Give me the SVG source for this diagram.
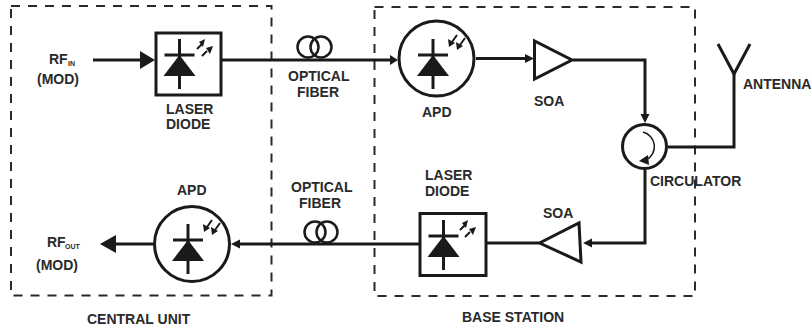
<svg xmlns="http://www.w3.org/2000/svg" width="812" height="333" viewBox="0 0 812 333">
<style>
text{font-family:"Liberation Sans",Arial,sans-serif;font-weight:700;font-size:14px;fill:#2a2a2a}
.s{font-size:7px}
.b{fill:none;stroke:#2a2a2a;stroke-width:2;stroke-dasharray:9 8}
.l{fill:none;stroke:#1a1a1a;stroke-width:3}
.t{fill:none;stroke:#1a1a1a;stroke-width:2}
.c{fill:none;stroke:#1a1a1a;stroke-width:2.500}
.a{fill:none;stroke:#1a1a1a;stroke-width:1.500}
.n{fill:#fff;stroke:#1a1a1a;stroke-width:3}
.f{fill:#1a1a1a;stroke:none}
</style>
<defs>
<g id="diode">
<path class="l" d="M0-16V34M-15 0H15"/>
<path class="f" d="M0 0L16 21H-16Z"/>
</g>
<g id="emit">
<path class="t" d="M-7 1L-2-4M-2 8L3 3"/>
<path class="f" d="M1-9L-5-6L-1-1ZM9-2L2 0L6 6Z"/>
</g>
<g id="recv">
<path class="t" d="M3-6L-2 1M11-3L6 4"/>
<path class="f" d="M-5 6L-6-2L1 2ZM3 9L2 1L9 5Z"/>
</g>
</defs>
<g id="central-unit"><rect class="b" x="11" y="6" width="260.500" height="289.500"/><text x="87" y="324">CENTRAL UNIT</text></g>
<g id="base-station"><rect class="b" x="374.500" y="7" width="320.500" height="289"/><text x="462" y="322">BASE STATION</text></g>
<g id="connectors">
<path class="l" d="M93 60H141"/><path class="f" d="M140 51L155 60L140 69Z"/>
<path class="l" d="M222 60H391"/><path class="f" d="M390 55L398 60L390 65Z"/>
<path class="l" d="M476 58.500H527"/><path class="f" d="M525 54L534 58.500L525 63Z"/>
<path class="l" d="M573 60H645V116"/><path class="f" d="M640.500 114L645 123L649.500 114Z"/>
<path class="l" d="M668 147H734V74"/>
<path class="l" d="M645 170V243H590"/><path class="f" d="M592 238.500L583 243L592 247.500Z"/>
<path class="l" d="M539 243H486"/>
<path class="l" d="M419 244H238"/><path class="f" d="M240 239.500L231 244L240 248.500Z"/>
<path class="l" d="M153 244H114"/><path class="f" d="M116 235L100 244L116 253Z"/>
</g>
<g id="rf-in"><text x="49" y="64">RF</text><text class="s" x="68" y="66">IN</text><text x="37" y="84">(MOD)</text></g>
<g id="laser-top"><rect class="n" x="156" y="33" width="65" height="62"/><use href="#diode" x="179.500" y="55"/><use href="#emit" x="204" y="48"/><text x="166" y="113.500">LASER</text><text x="166" y="129">DIODE</text></g>
<g id="fiber-top"><circle class="c" cx="308" cy="47" r="10.500"/><circle class="c" cx="321" cy="47" r="10.500"/><text x="288" y="81">OPTICAL</text><text x="297" y="97">FIBER</text></g>
<g id="apd-top"><circle class="n" cx="436.500" cy="58.500" r="37.500"/><use href="#diode" x="433" y="55"/><use href="#recv" x="454" y="41"/><text x="422" y="117">APD</text></g>
<g id="soa-top"><path class="n" d="M534.500 41V79L572 60Z"/><text x="534" y="106">SOA</text></g>
<g id="circulator"><circle class="n" cx="644.500" cy="146.500" r="22"/><path class="a" d="M643 132A15 15 0 0 1 646 160"/><path class="f" d="M639 161L648 155L649 165Z"/><text x="650" y="186">CIRCULATOR</text></g>
<g id="antenna"><path class="l" d="M718 44L734 74L750 44"/><text x="743" y="89">ANTENNA</text></g>
<g id="soa-bottom"><path class="n" d="M539.500 243L579 223L581 262Z"/><text x="543" y="218">SOA</text></g>
<g id="laser-bottom"><rect class="n" x="420" y="213.500" width="66" height="62"/><use href="#diode" x="443.500" y="236"/><use href="#emit" x="467" y="229"/><text x="425" y="180">LASER</text><text x="425" y="196">DIODE</text></g>
<g id="fiber-bottom"><circle class="c" cx="315" cy="232" r="10.500"/><circle class="c" cx="327" cy="232" r="10.500"/><text x="291" y="192">OPTICAL</text><text x="299" y="208">FIBER</text></g>
<g id="apd-bottom"><circle class="n" cx="192" cy="244" r="37.500"/><use href="#diode" x="188" y="240"/><use href="#recv" x="209" y="226"/><text x="177" y="195">APD</text></g>
<g id="rf-out"><text x="47" y="247">RF</text><text class="s" x="65" y="249">OUT</text><text x="36" y="270">(MOD)</text></g>
</svg>
